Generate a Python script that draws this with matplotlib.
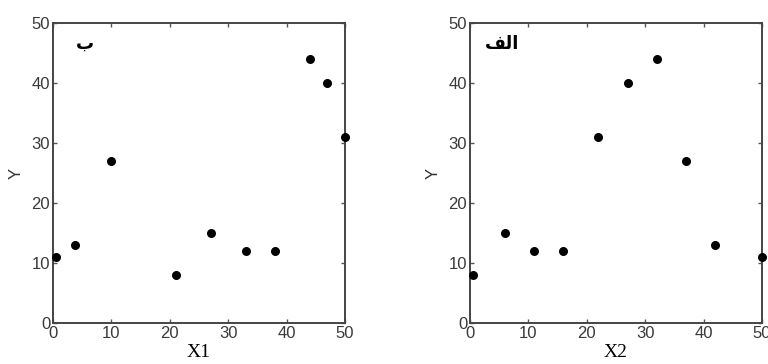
import matplotlib
matplotlib.use("Agg")
import matplotlib.pyplot as plt

# داده‌ها از روی تصویر
x1 = [0.5, 3.7, 10, 21, 27, 33, 38, 44, 47, 50]
y1 = [11, 13, 27, 8, 15, 12, 12, 44, 40, 31]
x2 = [0.5, 6, 11, 16, 22, 27, 32, 37, 42, 50]
y2 = [8, 15, 12, 12, 31, 40, 44, 27, 13, 11]
ticks = [0, 10, 20, 30, 40, 50]

# عنوان‌ها به شکل نمایشی (matplotlib شکل‌دهی عربی ندارد)
label_left = "\uFE8F"                 # ب
label_right = "\uFED2\uFEDF\uFE8D"    # الف

fig = plt.figure(figsize=(7.68, 3.64), dpi=100)
ax_l = fig.add_axes([53/768, 41/364, 292/768, 300/364])
ax_r = fig.add_axes([470/768, 41/364, 292/768, 300/364])

def style(ax, xs, ys, xname, tag):
    ax.scatter(xs, ys, s=30, color="black", clip_on=False, zorder=3)
    ax.set_xlim(0, 50)
    ax.set_ylim(0, 50)
    ax.set_xticks(ticks)
    ax.set_yticks(ticks)
    ax.tick_params(direction="in", length=3, width=1, top=True, right=True,
                   labelsize=12, labelcolor="#3a3a3a", color="#555555", pad=2)
    for lab in ax.get_xticklabels() + ax.get_yticklabels():
        lab.set_family(["Liberation Sans Narrow", "Liberation Sans"])
    for sp in ax.spines.values():
        sp.set_linewidth(1.4)
        sp.set_color("#444444")
    ax.set_xlabel(xname, family="Liberation Serif", fontsize=14, labelpad=2)
    ax.set_ylabel("Y", fontsize=12, labelpad=6, family="Liberation Sans",
                  color="#333333")
    ax.text(5.5, 46.5, tag, fontsize=13, fontweight="bold", ha="center",
            va="center", family="DejaVu Sans")

style(ax_l, x1, y1, "X1", label_left)
style(ax_r, x2, y2, "X2", label_right)

fig.savefig("out.png", dpi=100)
